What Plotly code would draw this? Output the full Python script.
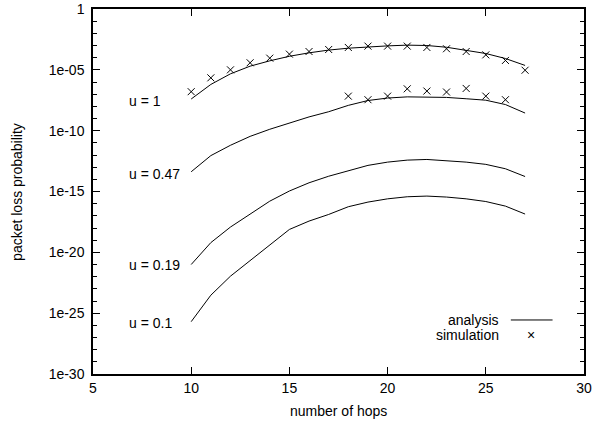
import plotly.graph_objects as go

hops = list(range(10, 28))

analysis_u1 = [4.0e-08, 6.3e-07, 4.7e-06, 2.0e-05, 5.5e-05, 1.3e-04, 2.5e-04, 4.2e-04, 6.0e-04,
               7.8e-04, 9.3e-04, 1.07e-03, 1.0e-03, 7.2e-04, 4.2e-04, 2.2e-04, 8.5e-05, 2.3e-05]
sim_u1 = [1.6e-07, 2.2e-06, 1.0e-05, 3.8e-05, 9.1e-05, 1.95e-04, 3.2e-04, 4.7e-04, 6.9e-04,
          8.9e-04, 8.9e-04, 8.9e-04, 6.9e-04, 5.4e-04, 3.2e-04, 1.7e-04, 5.9e-05, 9.3e-06]

analysis_u047 = [4.2e-14, 8.9e-13, 6.3e-12, 3.4e-11, 1.3e-10, 4.5e-10, 1.35e-09, 3.6e-09, 1.2e-08,
                 3.0e-08, 4.8e-08, 6.0e-08, 6.0e-08, 5.4e-08, 4.2e-08, 3.2e-08, 1.4e-08, 2.8e-09]
sim_hops_u047 = list(range(18, 27))
sim_u047 = [6.9e-08, 3.5e-08, 6.9e-08, 2.75e-07, 1.8e-07, 1.5e-07, 2.95e-07, 6.9e-08, 3.5e-08]

analysis_u019 = [1.0e-21, 6.3e-20, 1.2e-18, 1.3e-17, 1.6e-16, 1.1e-15, 5.2e-15, 1.8e-14, 5.4e-14,
                 1.4e-13, 2.6e-13, 3.8e-13, 4.3e-13, 3.5e-13, 2.6e-13, 1.7e-13, 7.4e-14, 1.7e-14]

analysis_u01 = [2.0e-26, 3.0e-24, 1.1e-22, 2.0e-21, 3.7e-20, 7.6e-19, 3.7e-18, 1.3e-17, 5.6e-17,
                1.35e-16, 2.5e-16, 3.7e-16, 4.2e-16, 3.5e-16, 2.5e-16, 1.5e-16, 6.3e-17, 1.4e-17]

curve_labels = ["u = 1", "u = 0.47", "u = 0.19", "u = 0.1"]
label_log_y = [-7.58, -13.54, -21.0, -25.8]

y_tickvals = [1e-30, 1e-25, 1e-20, 1e-15, 1e-10, 1e-05, 1]
y_ticktext = ["1e-30", "1e-25", "1e-20", "1e-15", "1e-10", "1e-05", "1"]
y_minor = [10.0 ** (-k) for k in range(0, 31)]
x_tickvals = [5, 10, 15, 20, 25, 30]

FONT = "Liberation Sans, Arial, Helvetica, sans-serif"
LINE = dict(color="black", width=1)
MARK = dict(symbol="x-thin-open", size=7, color="black", line=dict(color="black", width=1))

fig = go.Figure()
for ys in [analysis_u1, analysis_u047, analysis_u019, analysis_u01]:
    fig.add_trace(go.Scatter(x=hops, y=ys, mode="lines", line=LINE, showlegend=False))
fig.add_trace(go.Scatter(x=hops, y=sim_u1, mode="markers", marker=MARK, showlegend=False))
fig.add_trace(go.Scatter(x=sim_hops_u047, y=sim_u047, mode="markers", marker=MARK, showlegend=False))

for txt, ly in zip(curve_labels, label_log_y):
    fig.add_annotation(x=6.75, y=ly, xref="x", yref="y", text=txt, showarrow=False,
                       xanchor="left", yanchor="middle", font=dict(family=FONT, size=14, color="black"))

# legend (gnuplot style: text right-aligned, key sample on the right)
fig.add_annotation(x=0.830, y=0.148, xref="paper", yref="paper", text="analysis", showarrow=False,
                   xanchor="right", yanchor="middle", font=dict(family=FONT, size=14, color="black"))
fig.add_annotation(x=0.830, y=0.108, xref="paper", yref="paper", text="simulation", showarrow=False,
                   xanchor="right", yanchor="middle", font=dict(family=FONT, size=14, color="black"))
fig.add_shape(type="line", xref="paper", yref="paper", x0=0.851, x1=0.936, y0=0.148, y1=0.148,
              line=dict(color="black", width=1))
fig.add_annotation(x=0.893, y=0.108, xref="paper", yref="paper", text="×", showarrow=False,
                   xanchor="center", yanchor="middle", font=dict(family=FONT, size=14, color="black"))

# axis titles
fig.add_annotation(x=0.5, y=-0.1006, xref="paper", yref="paper", text="number of hops", showarrow=False,
                   xanchor="center", yanchor="middle", font=dict(family=FONT, size=14, color="black"))
fig.add_annotation(x=-0.156, y=0.5, xref="paper", yref="paper", text="packet loss probability",
                   showarrow=False, textangle=-90, xanchor="center", yanchor="middle",
                   font=dict(family=FONT, size=14, color="black"))

fig.update_layout(
    width=593, height=421,
    margin=dict(l=93, r=9, t=9, b=47, autoexpand=False),
    paper_bgcolor="white", plot_bgcolor="white",
    font=dict(family=FONT, size=14, color="black"),
    showlegend=False,
)
fig.update_xaxes(
    range=[5, 30], tickvals=x_tickvals, ticks="inside", ticklen=7, tickwidth=1, tickcolor="black",
    showline=True, linecolor="black", linewidth=1.5, mirror="ticks", showgrid=False, zeroline=False,
    automargin=False, tickfont=dict(family=FONT, size=14),
)
fig.update_yaxes(
    type="log", range=[-30, 0], tickvals=y_tickvals, ticktext=y_ticktext,
    ticks="inside", ticklen=7, tickwidth=1, tickcolor="black",
    minor=dict(tickvals=y_minor, ticks="inside", ticklen=4, tickwidth=1, tickcolor="black", showgrid=False),
    showline=True, linecolor="black", linewidth=1.5, mirror="ticks", showgrid=False, zeroline=False,
    automargin=False, tickfont=dict(family=FONT, size=14), ticklabelstandoff=4,
)

fig.write_html("out.html", config={"displayModeBar": False},
               post_script="document.body.style.margin='0';document.body.style.overflow='hidden';")
